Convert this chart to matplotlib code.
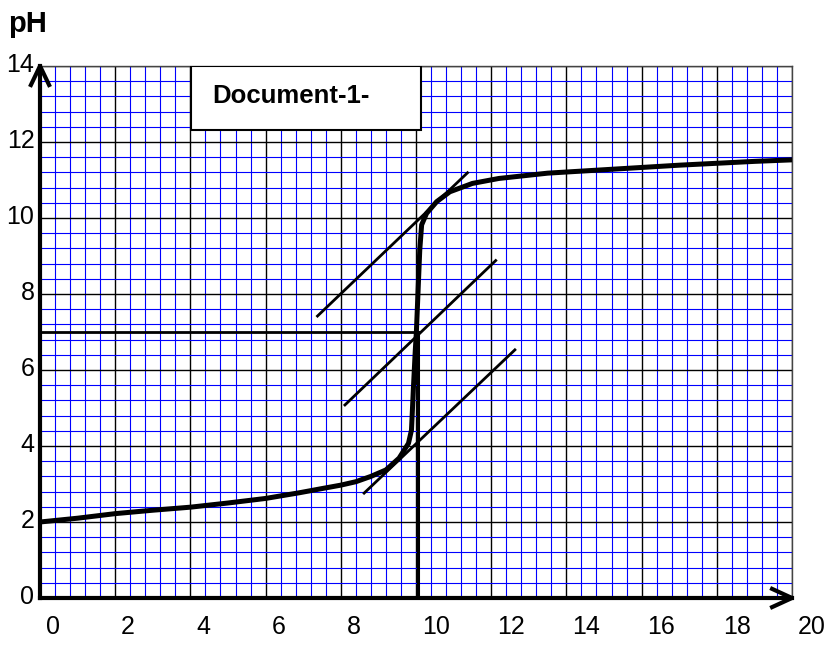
import matplotlib
matplotlib.use('Agg')
import matplotlib.pyplot as plt
import matplotlib.transforms as mtransforms
from matplotlib.patches import Rectangle
import numpy as np

plt.rcParams['font.family'] = ['Liberation Sans', 'DejaVu Sans']

# Titration curve
vol = [0, 1, 2, 3, 4, 5, 6, 6.9, 7.5, 8.0, 8.4, 8.8, 9.2, 9.55, 9.8, 9.88,
       9.93, 9.98, 10.01, 10.1, 10.15, 10.28, 10.55, 10.9, 11.5, 12.2, 13.5,
       15, 16, 17, 18, 19, 20]
ph = [2.0, 2.1, 2.22, 2.31, 2.39, 2.5, 2.62, 2.77, 2.88, 2.97, 3.06, 3.2,
      3.37, 3.68, 4.07, 4.42, 5.5, 6.5, 7.0, 9.16, 9.82, 10.12, 10.43, 10.69,
      10.91, 11.04, 11.18, 11.27, 11.33, 11.39, 11.44, 11.49, 11.53]

# three parallel tangents (start and end points)
tangent_x = [(7.38, 11.37), (8.11, 12.12), (8.62, 12.63)]
tangent_y = [(7.42, 11.19), (5.08, 8.88), (2.76, 6.53)]

# equivalence point
v_eq = 10.05
ph_eq = 7.0

x_ticks = [0, 2, 4, 6, 8, 10, 12, 14, 16, 18, 20]
y_ticks = [0, 2, 4, 6, 8, 10, 12, 14]

fig = plt.figure(figsize=(8.28, 6.46), dpi=100)
ax = fig.add_axes([40/828, 1-598/646, 752/828, 532/646])
ax.set_xlim(0, 20)
ax.set_ylim(0, 14)

# graph paper grid
ax.set_xticks(x_ticks)
ax.set_yticks(y_ticks)
ax.set_xticks(np.arange(0, 20.01, 0.4), minor=True)
ax.set_yticks(np.arange(0, 14.01, 0.4), minor=True)
ax.grid(which='minor', color='#0000ff', lw=0.8)
ax.grid(which='major', color='black', lw=1.0)
ax.set_axisbelow(True)
ax.tick_params(which='both', length=0)

ax.set_xticklabels([str(t) for t in x_ticks], fontsize=18, ha='left')
ax.set_yticklabels([str(t) for t in y_ticks], fontsize=18)
ax.tick_params(axis='x', pad=12)
ax.tick_params(axis='y', pad=4)
dx = mtransforms.ScaledTranslation(0.06, 0, fig.dpi_scale_trans)
for lab in ax.get_xticklabels():
    lab.set_transform(lab.get_transform() + dx)
dy = mtransforms.ScaledTranslation(0, 0.04, fig.dpi_scale_trans)
for lab in ax.get_yticklabels():
    lab.set_transform(lab.get_transform() + dy)

for s in ['left', 'bottom']:
    ax.spines[s].set_linewidth(3)
for s in ['top', 'right']:
    ax.spines[s].set_linewidth(1)
    ax.spines[s].set_color('#444444')

# arrow heads on the axes
ax.plot([-0.266, 0, 0.266], [13.45, 14, 13.45], color='black', lw=3,
        clip_on=False, solid_capstyle='butt', zorder=6)
ax.plot([19.42, 20, 19.42], [0.263, 0, -0.263], color='black', lw=3,
        clip_on=False, solid_capstyle='butt', zorder=6)

# curve, tangents and equivalence lines
ax.plot(vol, ph, color='black', lw=3.6, zorder=4, solid_joinstyle='round')
for tx, ty in zip(tangent_x, tangent_y):
    ax.plot(tx, ty, color='black', lw=2, zorder=4)
ax.plot([0, v_eq], [ph_eq, ph_eq], color='black', lw=2, zorder=4)
ax.plot([v_eq, v_eq], [0, ph_eq], color='black', lw=2.2, zorder=4)

# label box
ax.add_patch(Rectangle((4.02, 12.32), 6.1, 1.68, facecolor='white',
                       edgecolor='black', lw=1.5, zorder=5))
ax.text(4.57, 13.22, 'Document-1-', fontsize=18.5, fontweight='bold',
        va='center', ha='left', zorder=6)

fig.text(8/828, 1-31.7/646, 'pH', fontsize=21, fontweight='bold',
         va='baseline', ha='left')

fig.savefig('out.png', dpi=100)
